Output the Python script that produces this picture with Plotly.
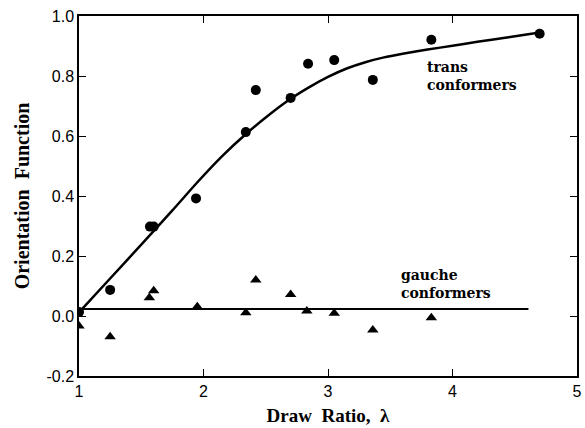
import plotly.graph_objects as go

# Trans conformers (circles)
trans_x = [1.0, 1.25, 1.57, 1.60, 1.94, 2.34, 2.42, 2.70, 2.84, 3.05, 3.36, 3.83, 4.70]
trans_y = [0.013, 0.087, 0.298, 0.298, 0.392, 0.613, 0.753, 0.727, 0.841, 0.853, 0.787, 0.921, 0.941]

# Smooth fitted curve through trans data
trans_fit_x = [1.0, 1.25, 1.5, 1.75, 1.96, 2.15, 2.35, 2.525, 2.7, 2.85, 3.0, 3.15, 3.3, 3.45, 3.6, 3.8, 4.0, 4.2, 4.45, 4.70]
trans_fit_y = [0.012, 0.125, 0.238, 0.352, 0.450, 0.533, 0.610, 0.670, 0.724, 0.763, 0.797, 0.825, 0.846, 0.862, 0.874, 0.888, 0.901, 0.914, 0.929, 0.945]

# Gauche conformers (triangles)
gauche_x = [1.0, 1.25, 1.565, 1.60, 1.95, 2.34, 2.42, 2.70, 2.83, 3.05, 3.36, 3.83]
gauche_y = [-0.033, -0.069, 0.061, 0.084, 0.031, 0.011, 0.120, 0.072, 0.017, 0.009, -0.047, -0.006]

gauche_fit_x = [1.0, 4.61]
gauche_fit_y = [0.023, 0.023]

x_ticks = [1, 2, 3, 4, 5]
y_ticks = [-0.2, 0.0, 0.2, 0.4, 0.6, 0.8, 1.0]
y_ticklabels = ["-0.2", "0.0", "0.2", "0.4", "0.6", "0.8", "1.0"]

fig = go.Figure()
fig.add_trace(go.Scatter(x=trans_fit_x, y=trans_fit_y, mode="lines",
                         line=dict(color="black", width=2.5, shape="spline", smoothing=0.8),
                         showlegend=False, hoverinfo="skip"))
fig.add_trace(go.Scatter(x=gauche_fit_x, y=gauche_fit_y, mode="lines",
                         line=dict(color="black", width=2),
                         showlegend=False, hoverinfo="skip"))
fig.add_trace(go.Scatter(x=trans_x, y=trans_y, mode="markers", name="trans conformers",
                         marker=dict(symbol="circle", size=10, color="black"),
                         showlegend=False))
fig.add_trace(go.Scatter(x=gauche_x, y=gauche_y, mode="markers", name="gauche conformers",
                         marker=dict(symbol="triangle-up", size=10, color="black"),
                         showlegend=False))

lab_font = dict(family="DejaVu Serif", size=14, color="black")
fig.add_annotation(x=3.78, y=0.862, xref="x", yref="y", text="<b>trans<br>conformers</b>",
                   showarrow=False, xanchor="left", yanchor="top", align="left", font=lab_font)
fig.add_annotation(x=3.57, y=0.17, xref="x", yref="y", text="<b>gauche<br>conformers</b>",
                   showarrow=False, xanchor="left", yanchor="top", align="left", font=lab_font)

tick_font = dict(family="Liberation Sans", size=16, color="black")

fig.update_xaxes(range=[1, 5], tickvals=x_ticks, ticktext=[str(v) for v in x_ticks],
                 ticks="inside", ticklen=7, tickwidth=1.2, tickcolor="black",
                 showline=True, linecolor="black", linewidth=1.5, mirror="ticks",
                 showgrid=False, zeroline=False, tickfont=tick_font,
                 title=dict(text="<b>Draw  Ratio,  λ</b>",
                            font=dict(family="Liberation Serif", size=19, color="black"), standoff=10))
fig.update_yaxes(range=[-0.2, 1.0], tickvals=y_ticks, ticktext=y_ticklabels,
                 ticks="inside", ticklen=7, tickwidth=1.2, tickcolor="black",
                 showline=True, linecolor="black", linewidth=1.5, mirror="ticks",
                 showgrid=False, zeroline=False, tickfont=tick_font,
                 title=dict(text="<b>Orientation  Function</b>",
                            font=dict(family="Liberation Serif", size=20, color="black"), standoff=11))

fig.update_layout(width=585, height=428, margin=dict(l=79, r=3, t=16, b=52),
                  paper_bgcolor="white", plot_bgcolor="white")

fig.write_html("out.html")
